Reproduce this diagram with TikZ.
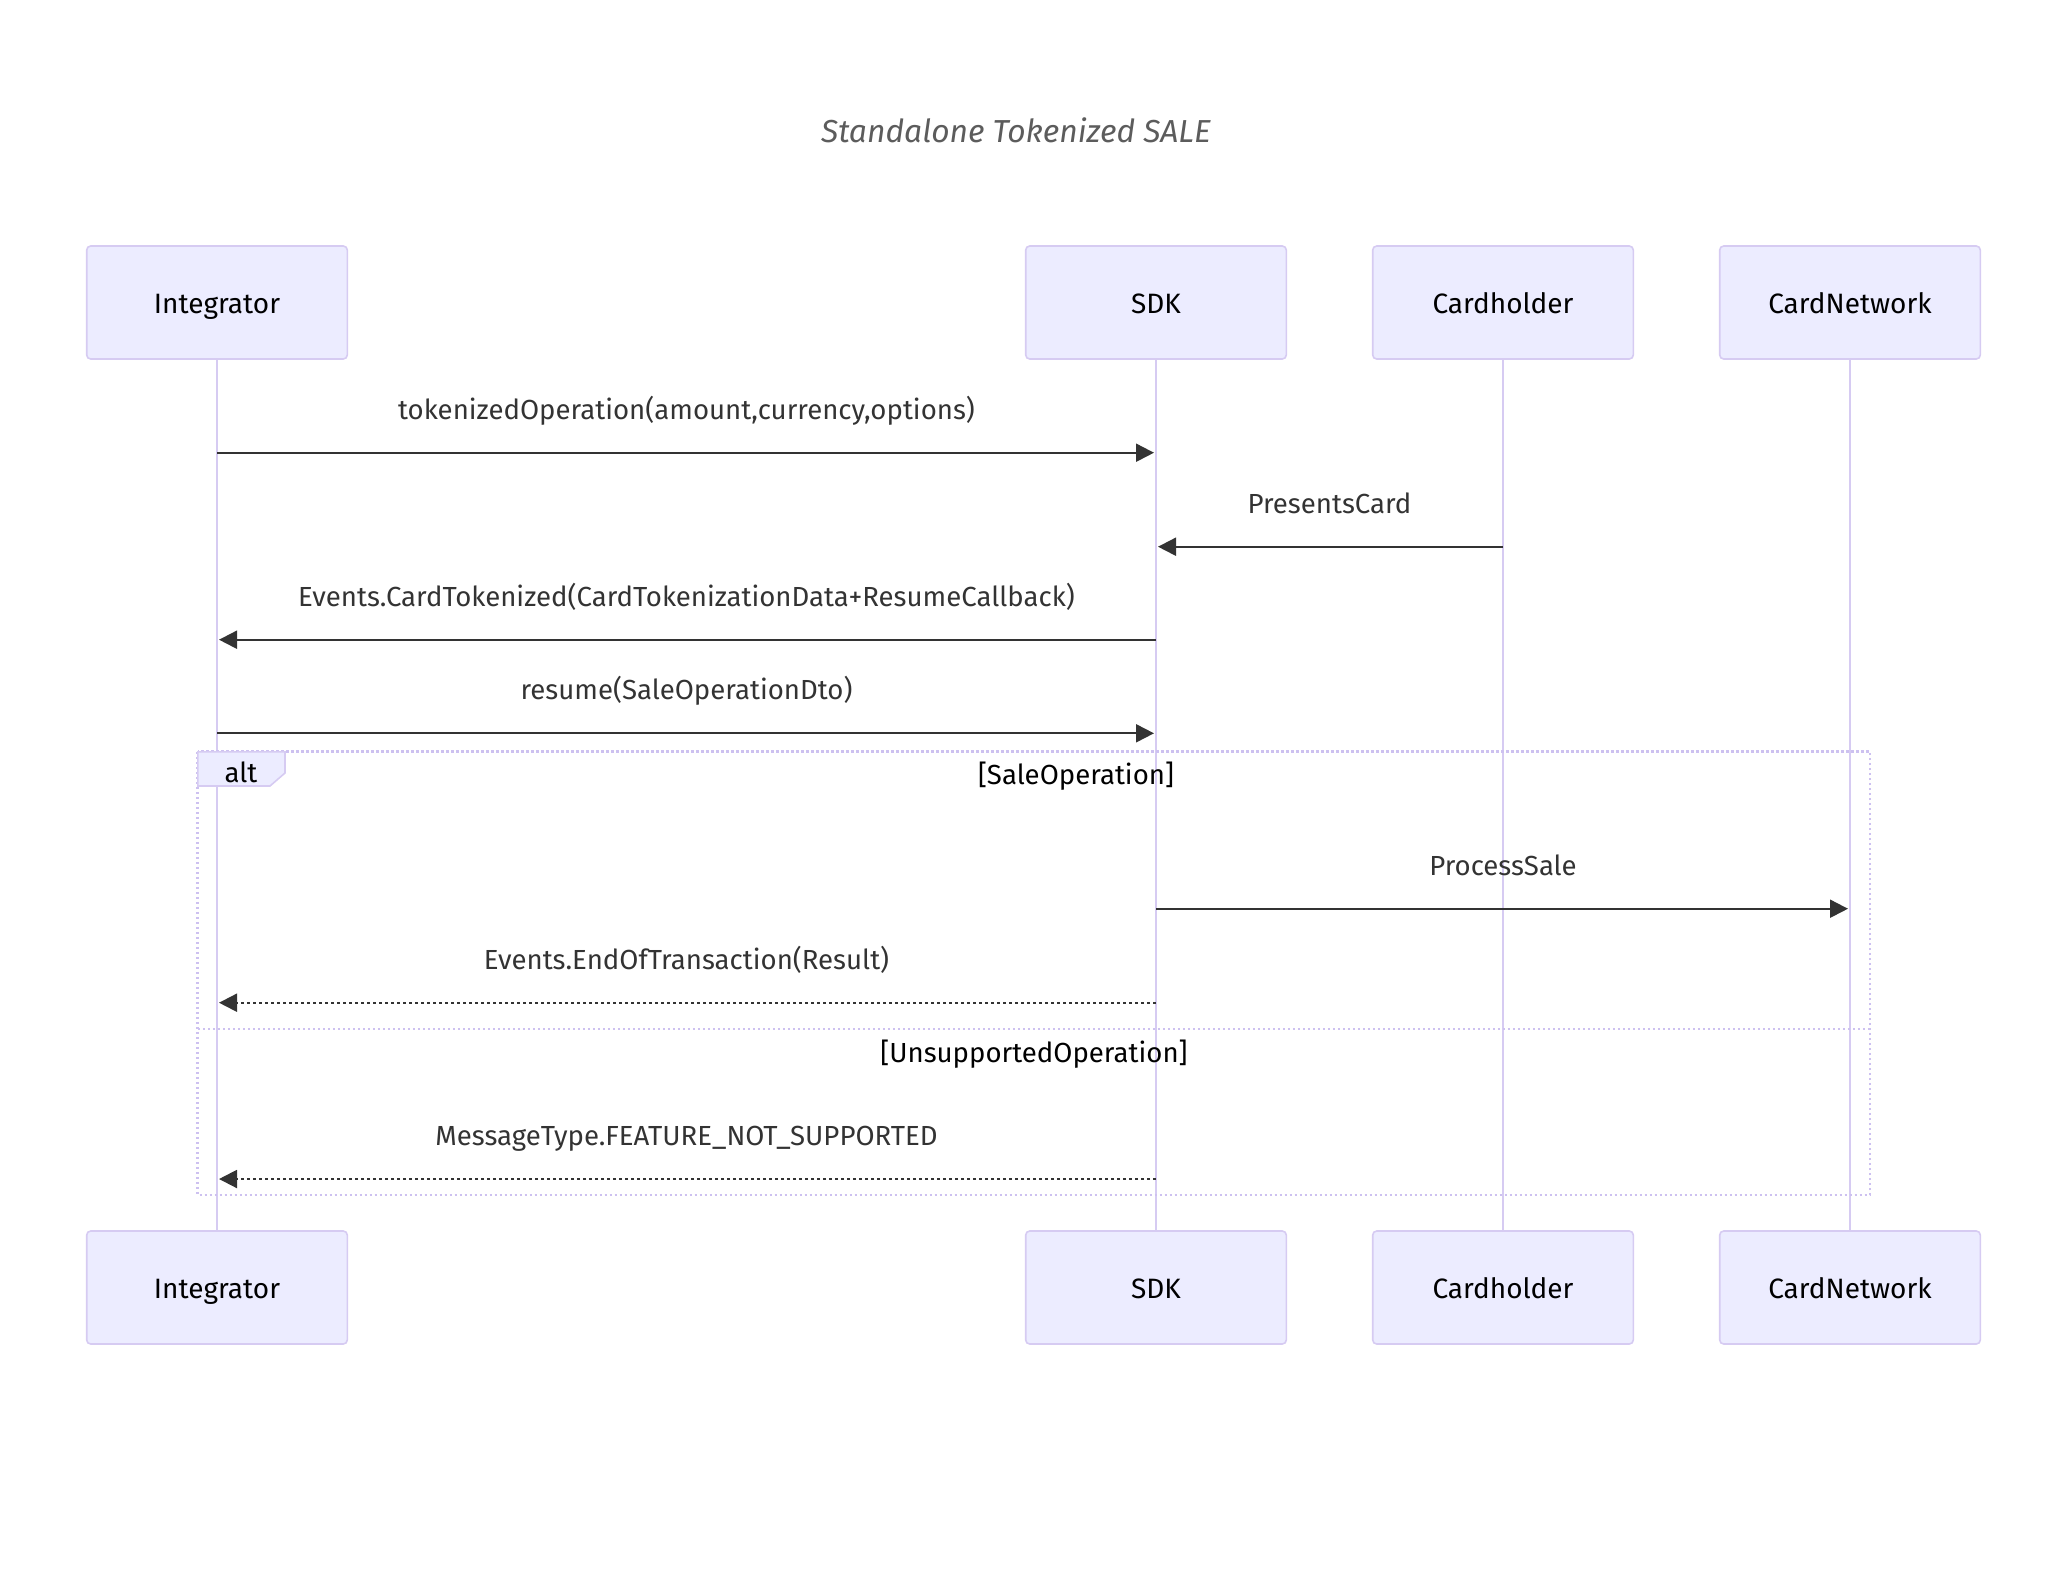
\documentclass[tikz,border=0pt]{standalone}
\usepackage{fontspec}
\setmainfont{Fira Sans}
\usetikzlibrary{arrows.meta}
\definecolor{actfill}{HTML}{ECECFF}
\definecolor{actline}{HTML}{D6CBF2}
\definecolor{frameline}{HTML}{CDC1F0}
\definecolor{msgline}{HTML}{333333}
\tikzset{
  actor/.style={draw=actline, fill=actfill, rounded corners=2pt, line width=0.8pt,
    minimum width=130.3pt, minimum height=56.5pt, text height=11pt, text depth=0pt,
    font=\fontsize{14pt}{16pt}\selectfont},
  life/.style={actline, line width=1.4pt},
  msg/.style={msgline, line width=1pt, -{Triangle[length=9pt,width=9pt]}, shorten >=1pt},
  reply/.style={msg, dash pattern=on 1.5pt off 1.5pt},
  lbl/.style={text=msgline, font=\fontsize{13.8pt}{16pt}\selectfont, text height=11pt, text depth=0pt, yshift=22.3pt},
  frame/.style={frameline, line width=1.4pt, dash pattern=on 1.3pt off 1.2pt},
  cond/.style={font=\fontsize{13.8pt}{16pt}\selectfont, text height=11pt, text depth=0pt}
}
\begin{document}
\begin{tikzpicture}[x=0.5pt,y=-0.5pt]
  \useasboundingbox (0,0) rectangle (2068,1592);
  \node[text=msgline!80, font=\fontsize{15.9pt}{18pt}\selectfont\itshape] (title) at (1016,130) {Standalone Tokenized SALE};
  \foreach \name/\xpos/\txt in {int/217/Integrator, sdk/1156/SDK, card/1503/Cardholder, net/1850/CardNetwork} {
    \node[actor] (\name) at (\xpos,302.5) {\txt};
    \node[actor] (\name-b) at (\xpos,1287.5) {\txt};
    \draw[life] (\name) -- (\name-b);
  }
  \coordinate (alttl) at (197.8,751.8);
  \coordinate (altbr) at (1870,1195);
  \draw[frame] (alttl) rectangle (altbr);
  \draw[frame] (alttl |- 0,1029) -- (altbr |- 0,1029);
  \draw[draw=actline, fill=actfill, line width=0.8pt] (alttl) -- (285,751.8) -- (285,773) -- (270,786) -- (197.8,786) -- cycle;
  \node[cond] (alt) at (241,771) {alt};
  \node[cond] (sale) at (1076,773) {[SaleOperation]};
  \node[cond] (unsup) at (1034,1051) {[UnsupportedOperation]};
  \coordinate (m1) at (0,452.7);
  \coordinate (m2) at (0,546.7);
  \coordinate (m3) at (0,639.7);
  \coordinate (m4) at (0,733.3);
  \coordinate (m5) at (0,908.7);
  \coordinate (m6) at (0,1002.7);
  \coordinate (m7) at (0,1179);
  \draw[msg] (int |- m1) -- node[lbl] {tokenizedOperation(amount,currency,options)} (sdk |- m1);
  \draw[msg] (card |- m2) -- node[lbl] {PresentsCard} (sdk |- m2);
  \draw[msg] (sdk |- m3) -- node[lbl] {Events.CardTokenized(CardTokenizationData+ResumeCallback)} (int |- m3);
  \draw[msg] (int |- m4) -- node[lbl] {resume(SaleOperationDto)} (sdk |- m4);
  \draw[msg] (sdk |- m5) -- node[lbl] {ProcessSale} (net |- m5);
  \draw[reply] (sdk |- m6) -- node[lbl] {Events.EndOfTransaction(Result)} (int |- m6);
  \draw[reply] (sdk |- m7) -- node[lbl] {MessageType.FEATURE\_NOT\_SUPPORTED} (int |- m7);
\end{tikzpicture}
\end{document}
